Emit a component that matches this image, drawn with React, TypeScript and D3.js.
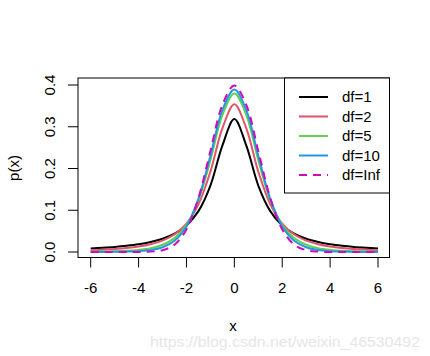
import React from "react";
import * as d3 from "d3";

const xs = [-6, -5.5, -5, -4.5, -4, -3.5, -3, -2.5, -2, -1.5, -1, -0.5, 0, 0.5, 1, 1.5, 2, 2.5, 3, 3.5, 4, 4.5, 5, 5.5, 6];

const df1 = [0.0086, 0.0102, 0.0122, 0.015, 0.0187, 0.0241, 0.0318, 0.0439, 0.0637, 0.0979, 0.1592, 0.2546, 0.3183, 0.2546, 0.1592, 0.0979, 0.0637, 0.0439, 0.0318, 0.0241, 0.0187, 0.015, 0.0122, 0.0102, 0.0086];
const df2 = [0.0043, 0.0055, 0.0071, 0.0095, 0.0131, 0.0186, 0.0274, 0.0422, 0.068, 0.1141, 0.1925, 0.2963, 0.3536, 0.2963, 0.1925, 0.1141, 0.068, 0.0422, 0.0274, 0.0186, 0.0131, 0.0095, 0.0071, 0.0055, 0.0043];
const df5 = [0.0007, 0.0011, 0.0018, 0.0029, 0.0051, 0.0092, 0.0173, 0.0333, 0.0651, 0.1245, 0.2197, 0.3279, 0.3796, 0.3279, 0.2197, 0.1245, 0.0651, 0.0333, 0.0173, 0.0092, 0.0051, 0.0029, 0.0018, 0.0011, 0.0007];
const df10 = [0.0001, 0.0002, 0.0004, 0.0009, 0.002, 0.0048, 0.0114, 0.0269, 0.0611, 0.1275, 0.2304, 0.3397, 0.3891, 0.3397, 0.2304, 0.1275, 0.0611, 0.0269, 0.0114, 0.0048, 0.002, 0.0009, 0.0004, 0.0002, 0.0001];
const dfInf = [0, 0, 0, 0, 0.0001, 0.0009, 0.0044, 0.0175, 0.054, 0.1295, 0.242, 0.3521, 0.3989, 0.3521, 0.242, 0.1295, 0.054, 0.0175, 0.0044, 0.0009, 0.0001, 0, 0, 0, 0];

const seriesNames = ["df=1", "df=2", "df=5", "df=10", "df=Inf"];
const seriesValues = [df1, df2, df5, df10, dfInf];
const seriesColors = ["#000000", "#DF536B", "#61D04F", "#2297E6", "#CD0BBC"];
const seriesDash = [null, null, null, null, "8,6"];

const xTicks = [-6, -4, -2, 0, 2, 4, 6];
const yTicks = [0, 0.1, 0.2, 0.3, 0.4];

export default function App() {
  const W = 430, H = 356;
  const box = { l: 78, r: 389.5, t: 78, b: 257.5 };
  const x = d3.scaleLinear().domain([-6, 6]).range([90.7, 378]);
  const y = d3.scaleLinear().domain([0, 0.4]).range([252, 85]);
  const font = "'Liberation Sans', Arial, sans-serif";
  const line = d3
    .line<number>()
    .x((_, i) => x(xs[i]))
    .y((d) => y(d))
    .curve(d3.curveCatmullRom.alpha(0.5));

  const leg = { l: 284.5, r: 389.5, t: 78, b: 193 };
  const legRowY = [97, 116.5, 136, 155.5, 175];

  return (
    <svg width={W} height={H} style={{ position: "absolute", left: 0, top: 0, background: "#fff" }} fontFamily={font}>
      <rect x={0} y={0} width={W} height={H} fill="#fff" />
      <defs>
        <clipPath id="plotclip">
          <rect x={box.l} y={box.t} width={box.r - box.l} height={box.b - box.t} />
        </clipPath>
      </defs>
      <g clipPath="url(#plotclip)">
        {seriesValues.map((vals, k) => (
          <path
            key={k}
            d={line(vals) || ""}
            fill="none"
            stroke={seriesColors[k]}
            strokeWidth={2}
            strokeDasharray={seriesDash[k] || undefined}
          />
        ))}
      </g>
      <rect x={box.l} y={box.t} width={box.r - box.l} height={box.b - box.t} fill="none" stroke="#000" strokeWidth={1} />
      {/* x axis */}
      <line x1={x(-6)} x2={x(6)} y1={box.b} y2={box.b} stroke="#000" />
      {xTicks.map((t) => (
        <g key={t}>
          <line x1={x(t)} x2={x(t)} y1={box.b} y2={box.b + 10} stroke="#000" />
          <text x={x(t)} y={293} textAnchor="middle" fontSize={15} fill="#000">
            {t}
          </text>
        </g>
      ))}
      {/* y axis */}
      {yTicks.map((t) => (
        <g key={t}>
          <line x1={box.l - 10} x2={box.l} y1={y(t)} y2={y(t)} stroke="#000" />
          <text
            x={55}
            y={y(t)}
            textAnchor="middle"
            fontSize={15}
            fill="#000"
            transform={`rotate(-90, 55, ${y(t)})`}
          >
            {t.toFixed(1)}
          </text>
        </g>
      ))}
      <text x={233} y={330.5} textAnchor="middle" fontSize={15} fill="#000">
        x
      </text>
      <text x={18.5} y={168} textAnchor="middle" fontSize={15} fill="#000" transform="rotate(-90, 18.5, 168)">
        p(x)
      </text>
      {/* legend */}
      <rect x={leg.l} y={leg.t} width={leg.r - leg.l} height={leg.b - leg.t} fill="#fff" stroke="#000" strokeWidth={1} />
      {seriesNames.map((n, k) => (
        <g key={n}>
          <line
            x1={299}
            x2={328}
            y1={legRowY[k]}
            y2={legRowY[k]}
            stroke={seriesColors[k]}
            strokeWidth={2}
            strokeDasharray={seriesDash[k] || undefined}
          />
          <text x={342} y={legRowY[k] + 5.3} fontSize={15} fill="#000">
            {n}
          </text>
        </g>
      ))}
      <text x={150} y={347} fontSize={14} fill="#e6e6e6" textLength={270} lengthAdjust="spacingAndGlyphs">
        https://blog.csdn.net/weixin_46530492
      </text>
    </svg>
  );
}
